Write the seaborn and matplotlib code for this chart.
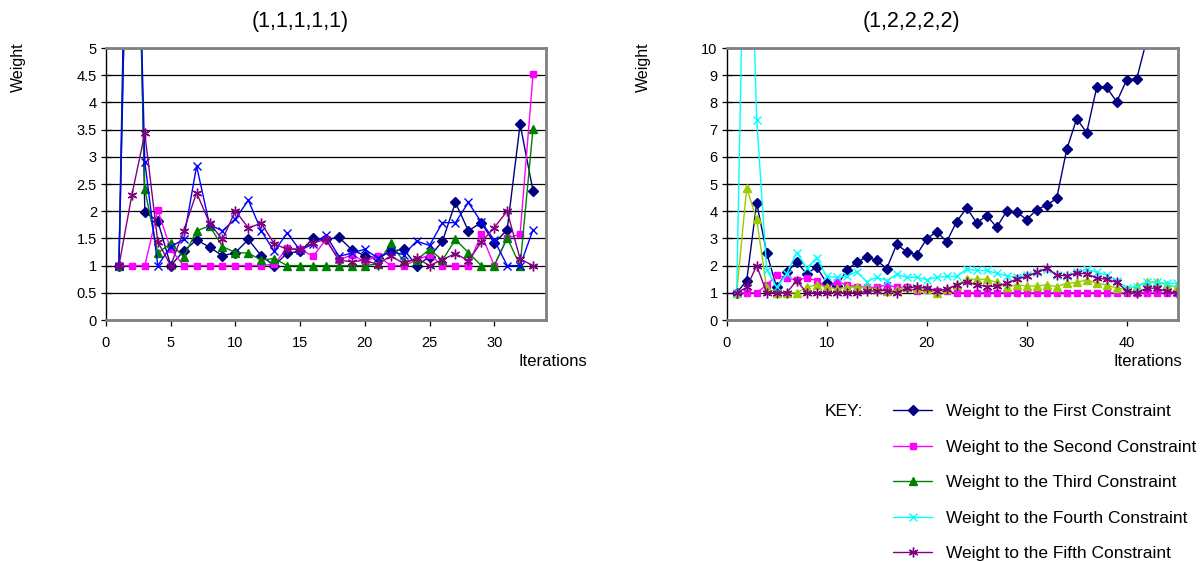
import numpy as np
import pandas as pd
import matplotlib
matplotlib.use("Agg")
import matplotlib.pyplot as plt
import seaborn as sns

# ---- data -------------------------------------------------------------
titles = ["(1,1,1,1,1)", "(1,2,2,2,2)"]
series_names = [
    "Weight to the First Constraint",
    "Weight to the Second Constraint",
    "Weight to the Third Constraint",
    "Weight to the Fourth Constraint",
    "Weight to the Fifth Constraint",
]

iters_left = list(range(1, 34))
first_left = [1.0, 14.0, 1.98, 1.82, 1.0, 1.27, 1.47, 1.34, 1.18, 1.24, 1.48, 1.18, 1.0,
              1.23, 1.26, 1.5, 1.48, 1.52, 1.29, 1.18, 1.14, 1.26, 1.30, 1.0, 1.16, 1.45,
              2.16, 1.64, 1.79, 1.41, 1.66, 3.60, 2.37]
second_left = [1.0, 1.0, 1.0, 2.02, 1.3, 1.0, 1.0, 1.0, 1.0, 1.0, 1.0, 1.0, 1.03,
               1.32, 1.30, 1.17, 1.48, 1.1, 1.2, 1.07, 1.18, 1.0, 1.0, 1.1, 1.2, 1.0,
               1.0, 1.0, 1.58, 1.0, 1.5, 1.58, 4.52]
third_left = [1.0, 12.0, 2.40, 1.23, 1.41, 1.16, 1.64, 1.73, 1.35, 1.24, 1.23, 1.1, 1.13,
              1.0, 1.0, 1.0, 1.0, 1.0, 1.0, 1.0, 1.03, 1.41, 1.08, 1.1, 1.3, 1.1,
              1.48, 1.24, 1.0, 1.0, 1.51, 1.0, 3.52]
fourth_left = [1.0, 12.0, 2.91, 1.0, 1.35, 1.48, 2.83, 1.75, 1.64, 1.86, 2.2, 1.64, 1.26,
               1.6, 1.28, 1.4, 1.56, 1.17, 1.23, 1.3, 1.14, 1.26, 1.2, 1.45, 1.37, 1.79,
               1.79, 2.16, 1.8, 1.47, 1.0, 1.0, 1.66]
fifth_left = [1.0, 2.30, 3.43, 1.44, 1.0, 1.64, 2.34, 1.78, 1.48, 2.01, 1.69, 1.78, 1.40,
              1.30, 1.30, 1.42, 1.48, 1.1, 1.07, 1.1, 1.02, 1.18, 1.04, 1.14, 1.0, 1.11,
              1.22, 1.09, 1.43, 1.7, 2.0, 1.12, 1.0]

iters_right = list(range(1, 46))
first_right = [1.0, 1.45, 4.3, 2.46, 1.2, 1.75, 2.13, 1.7, 1.95, 1.35, 1.25, 1.82, 2.13,
               2.31, 2.19, 1.89, 2.78, 2.51, 2.40, 2.98, 3.25, 2.88, 3.62, 4.12, 3.57,
               3.84, 3.41, 4.0, 3.97, 3.69, 4.06, 4.22, 4.47, 6.27, 7.40, 6.89, 8.55,
               8.55, 8.02, 8.83, 8.86, 10.3, 11.4, 12.3, 13.5]
second_right = [1.0, 1.0, 1.0, 1.29, 1.65, 1.54, 1.48, 1.54, 1.45, 1.17, 1.41, 1.29, 1.23,
                1.2, 1.2, 1.29, 1.2, 1.2, 1.05, 1.1, 1.08, 1.05, 1.0, 1.0, 1.0,
                1.0, 1.0, 1.0, 1.0, 1.0, 1.0, 1.0, 1.0, 1.0, 1.0, 1.0, 1.0,
                1.0, 1.0, 1.0, 1.0, 1.0, 1.0, 1.0, 1.0]
third_right = [1.0, 4.86, 3.7, 1.17, 1.0, 1.0, 1.0, 1.2, 1.3, 1.2, 1.15, 1.2, 1.2,
               1.17, 1.15, 1.08, 1.1, 1.23, 1.17, 1.13, 1.0, 1.13, 1.29, 1.5, 1.5,
               1.5, 1.38, 1.23, 1.29, 1.25, 1.25, 1.29, 1.23, 1.35, 1.38, 1.48, 1.35,
               1.29, 1.17, 1.13, 1.25, 1.38, 1.41, 1.29, 1.23]
fourth_right = [1.0, 20.0, 7.34, 1.85, 1.2, 1.7, 2.48, 1.9, 2.28, 1.6, 1.57, 1.6, 1.78,
                1.41, 1.57, 1.45, 1.68, 1.57, 1.57, 1.48, 1.57, 1.6, 1.6, 1.87, 1.82,
                1.82, 1.72, 1.62, 1.57, 1.65, 1.75, 1.87, 1.66, 1.62, 1.75, 1.87, 1.75,
                1.66, 1.45, 1.17, 1.23, 1.38, 1.38, 1.35, 1.35]
fifth_right = [1.0, 1.2, 2.0, 1.0, 1.0, 1.0, 1.45, 1.0, 1.0, 1.0, 1.0, 1.0, 1.0,
               1.05, 1.08, 1.08, 1.0, 1.17, 1.23, 1.17, 1.08, 1.13, 1.29, 1.41, 1.29,
               1.23, 1.25, 1.35, 1.5, 1.6, 1.75, 1.9, 1.66, 1.62, 1.72, 1.7, 1.54,
               1.5, 1.38, 1.08, 1.0, 1.17, 1.17, 1.05, 1.0]

# ---- styling ----------------------------------------------------------
colors_left = ["#000080", "#FF00FF", "#008000", "#0000FF", "#800080"]
colors_right = ["#000080", "#FF00FF", "#99CC00", "#00FFFF", "#800080"]
markers = ["D", "s", "^", "x", (6, 2, 0)]
marker_sizes = [5, 5, 6, 6, 7]

sns.set_theme(style="white")
plt.rcParams["font.family"] = ["Liberation Sans", "DejaVu Sans"]
plt.rcParams["text.color"] = "black"

W, H = 1202, 562
fig = plt.figure(figsize=(W / 100, H / 100), dpi=100)


def box(l, t, r, b):
    return [l / W, 1 - b / H, (r - l) / W, (b - t) / H]


def draw_panel(ax, iters, series, colors, ymax, ystep, xmax):
    lines = []
    for vals, col, mk, ms in zip(series, colors, markers, marker_sizes):
        df = pd.DataFrame({"Iteration": iters, "Weight": vals})
        sns.lineplot(data=df, x="Iteration", y="Weight", ax=ax, color=col,
                     marker=mk, markersize=ms, markeredgecolor=col,
                     markerfacecolor=col, markeredgewidth=1.0, linewidth=1.0,
                     estimator=None, legend=False)
        lines.append(ax.lines[-1])
    ax.set_xlim(0, xmax)
    ax.set_ylim(0, ymax)
    yt = np.arange(0, ymax + ystep / 2, ystep)
    ax.set_yticks(yt)
    ax.set_yticklabels([f"{v:g}" for v in yt])
    ax.set_xticks(np.arange(0, xmax + 0.1, 5 if xmax < 40 else 10))
    ax.set_xlabel("")
    ax.set_ylabel("")
    ax.yaxis.grid(True, color="black", linewidth=0.9)
    ax.xaxis.grid(False)
    ax.set_axisbelow(True)
    for side in ["top", "right", "bottom"]:
        ax.spines[side].set_color("#808080")
        ax.spines[side].set_linewidth(2.0)
    ax.spines["left"].set_color("black")
    ax.spines["left"].set_linewidth(1.0)
    ax.tick_params(axis="y", direction="inout", length=7, width=0.9, color="black",
                   pad=3, labelsize=10.5, labelcolor="black", left=True)
    ax.tick_params(axis="x", direction="out", length=4, width=0.9, color="black",
                   pad=7.5, labelsize=10.5, labelcolor="black", bottom=True)
    return lines


axL = fig.add_axes(box(106, 48, 546, 320))
axR = fig.add_axes(box(726.7, 48, 1177.7, 320))

lines_left = draw_panel(axL, iters_left,
                        [first_left, second_left, third_left, fourth_left, fifth_left],
                        colors_left, 5, 0.5, 34)
lines_right = draw_panel(axR, iters_right,
                         [first_right, second_right, third_right, fourth_right, fifth_right],
                         colors_right, 10, 1, 45.1)

# titles and axis captions
fig.text(300 / W, 1 - 22 / H, titles[0], ha="center", va="center", fontsize=15.5)
fig.text(911 / W, 1 - 22 / H, titles[1], ha="center", va="center", fontsize=15.5)
for xc in (18.5, 643):
    fig.text(xc / W, 1 - 67.5 / H, "Weight", rotation=90, ha="center", va="center",
             fontsize=11.5)
fig.text(553 / W, 1 - 362 / H, "Iterations", ha="center", va="center", fontsize=12)
fig.text(1148 / W, 1 - 362 / H, "Iterations", ha="center", va="center", fontsize=12)

# key
handles = [lines_left[0], lines_left[1], lines_left[2], lines_right[3], lines_left[4]]
fig.text(825 / W, 1 - 411 / H, "KEY:", ha="left", va="center", fontsize=12.5)
fig.legend(handles, series_names, loc="upper left",
           bbox_to_anchor=(893 / W, 1 - 404 / H), frameon=False, fontsize=12.5,
           handlelength=2.25, handletextpad=0.8, labelspacing=1.175,
           borderaxespad=0, borderpad=0, numpoints=1)

fig.savefig("out.png", dpi=100)
